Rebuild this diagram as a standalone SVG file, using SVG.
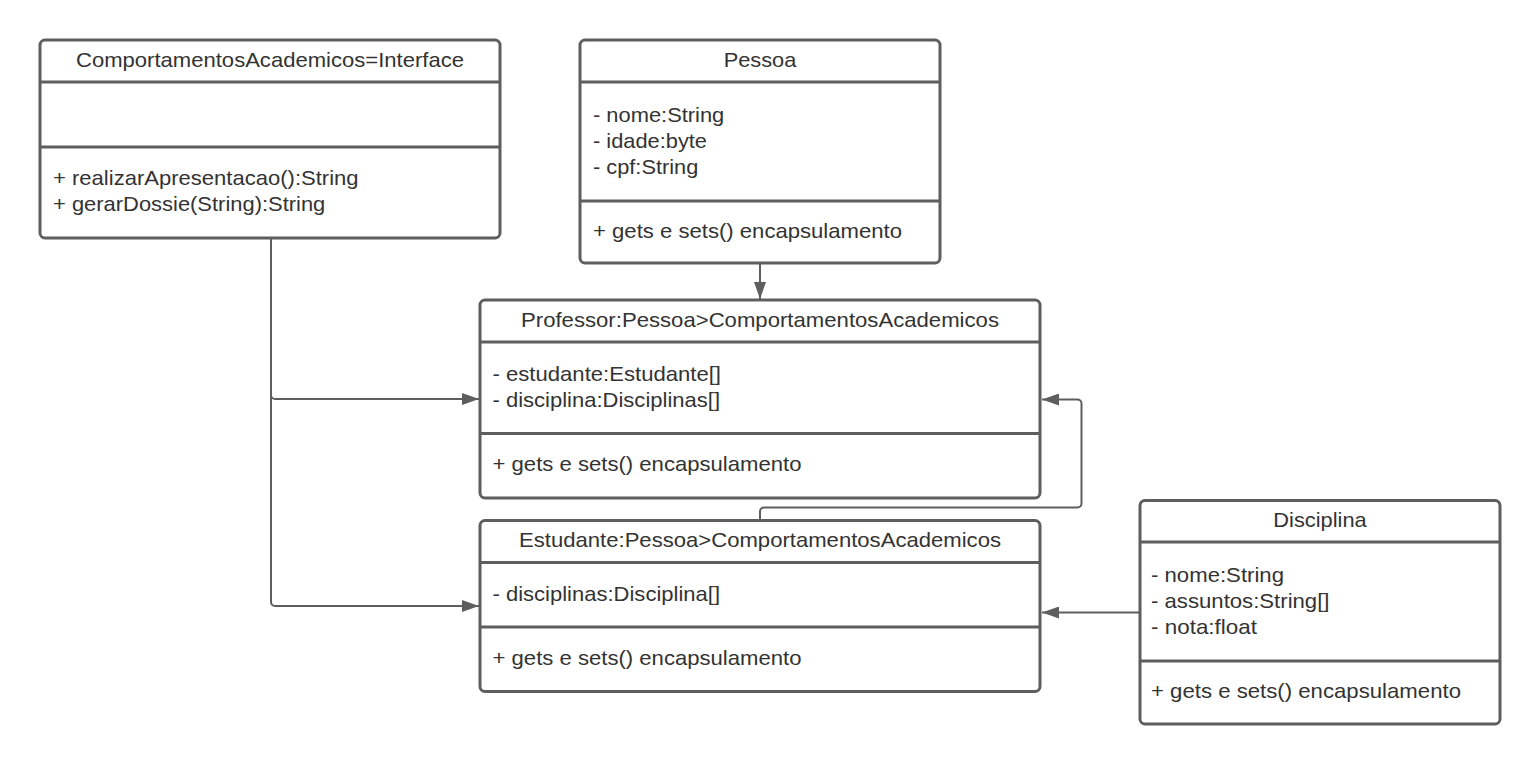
<svg xmlns="http://www.w3.org/2000/svg" width="1540" height="764" viewBox="0 0 1540 764">
<style>
.box{fill:#ffffff;stroke:#5e5e5e;stroke-width:3}
.div{stroke:#5e5e5e;stroke-width:3}
.t{font-family:"Liberation Sans",Arial,sans-serif;font-size:21px;fill:#333333}
.c{text-anchor:middle}
.con{fill:none;stroke:#5e5e5e;stroke-width:2}
</style>
<defs>
<marker id="arr" markerUnits="userSpaceOnUse" markerWidth="17" markerHeight="12" viewBox="0 0 17 12" refX="17" refY="6" orient="auto">
<path d="M0,0 L17,6 L0,12 z" fill="#5e5e5e"/>
</marker>
</defs>
<rect width="1540" height="764" fill="#ffffff"/>
<g id="connectors">
<path class="con" d="M271 238 V395 A4 4 0 0 0 275 399 H479" marker-end="url(#arr)"/>
<path class="con" d="M271 238 V602 A4 4 0 0 0 275 606 H479" marker-end="url(#arr)"/>
<path class="con" d="M760 263 V299" marker-end="url(#arr)"/>
<path class="con" d="M760 520 V511.5 A4 4 0 0 1 764 507.5 H1077.5 A4 4 0 0 0 1081.5 503.5 V403.5 A4 4 0 0 0 1077.5 399.5 H1042" marker-end="url(#arr)"/>
<path class="con" d="M1140 612.5 H1042" marker-end="url(#arr)"/>
</g>
<g id="interface">
<rect class="box" x="40" y="40" width="460" height="198" rx="5"/>
<line class="div" x1="40" y1="82" x2="500" y2="82"/>
<line class="div" x1="40" y1="147" x2="500" y2="147"/>
<text class="t c" x="270" y="66.5" textLength="388" lengthAdjust="spacingAndGlyphs">ComportamentosAcademicos=Interface</text>
<text class="t" x="53" y="184.5" textLength="305.6" lengthAdjust="spacingAndGlyphs">+ realizarApresentacao():String</text>
<text class="t" x="53" y="210.5" textLength="272.3" lengthAdjust="spacingAndGlyphs">+ gerarDossie(String):String</text>
</g>
<g id="pessoa">
<rect class="box" x="580" y="40" width="360" height="223" rx="5"/>
<line class="div" x1="580" y1="82" x2="940" y2="82"/>
<line class="div" x1="580" y1="201" x2="940" y2="201"/>
<text class="t c" x="760" y="66.5" textLength="72.7" lengthAdjust="spacingAndGlyphs">Pessoa</text>
<text class="t" x="593" y="121.5" textLength="131.3" lengthAdjust="spacingAndGlyphs">- nome:String</text>
<text class="t" x="593" y="147.5" textLength="114" lengthAdjust="spacingAndGlyphs">- idade:byte</text>
<text class="t" x="593" y="173.5" textLength="105.3" lengthAdjust="spacingAndGlyphs">- cpf:String</text>
<text class="t" x="593" y="237.5" textLength="309" lengthAdjust="spacingAndGlyphs">+ gets e sets() encapsulamento</text>
</g>
<g id="professor">
<rect class="box" x="480" y="300" width="560" height="198" rx="5"/>
<line class="div" x1="480" y1="342" x2="1040" y2="342"/>
<line class="div" x1="480" y1="433.5" x2="1040" y2="433.5"/>
<text class="t c" x="760" y="326.5" textLength="478" lengthAdjust="spacingAndGlyphs">Professor:Pessoa&gt;ComportamentosAcademicos</text>
<text class="t" x="492.5" y="381" textLength="228.5" lengthAdjust="spacingAndGlyphs">- estudante:Estudante[]</text>
<text class="t" x="492.5" y="407" textLength="227.5" lengthAdjust="spacingAndGlyphs">- disciplina:Disciplinas[]</text>
<text class="t" x="492.5" y="471" textLength="309" lengthAdjust="spacingAndGlyphs">+ gets e sets() encapsulamento</text>
</g>
<g id="estudante">
<rect class="box" x="480" y="520.5" width="560" height="171" rx="5"/>
<line class="div" x1="480" y1="562.5" x2="1040" y2="562.5"/>
<line class="div" x1="480" y1="627" x2="1040" y2="627"/>
<text class="t c" x="760" y="546.5" textLength="482" lengthAdjust="spacingAndGlyphs">Estudante:Pessoa&gt;ComportamentosAcademicos</text>
<text class="t" x="492.5" y="601" textLength="227.5" lengthAdjust="spacingAndGlyphs">- disciplinas:Disciplina[]</text>
<text class="t" x="492.5" y="664.5" textLength="309" lengthAdjust="spacingAndGlyphs">+ gets e sets() encapsulamento</text>
</g>
<g id="disciplina">
<rect class="box" x="1140" y="500.5" width="360" height="223.5" rx="5"/>
<line class="div" x1="1140" y1="542" x2="1500" y2="542"/>
<line class="div" x1="1140" y1="661" x2="1500" y2="661"/>
<text class="t c" x="1320" y="526.5" textLength="93.3" lengthAdjust="spacingAndGlyphs">Disciplina</text>
<text class="t" x="1151" y="581.5" textLength="133" lengthAdjust="spacingAndGlyphs">- nome:String</text>
<text class="t" x="1151" y="607.5" textLength="178.5" lengthAdjust="spacingAndGlyphs">- assuntos:String[]</text>
<text class="t" x="1151" y="633.5" textLength="106" lengthAdjust="spacingAndGlyphs">- nota:float</text>
<text class="t" x="1151" y="697.5" textLength="310" lengthAdjust="spacingAndGlyphs">+ gets e sets() encapsulamento</text>
</g>
</svg>
